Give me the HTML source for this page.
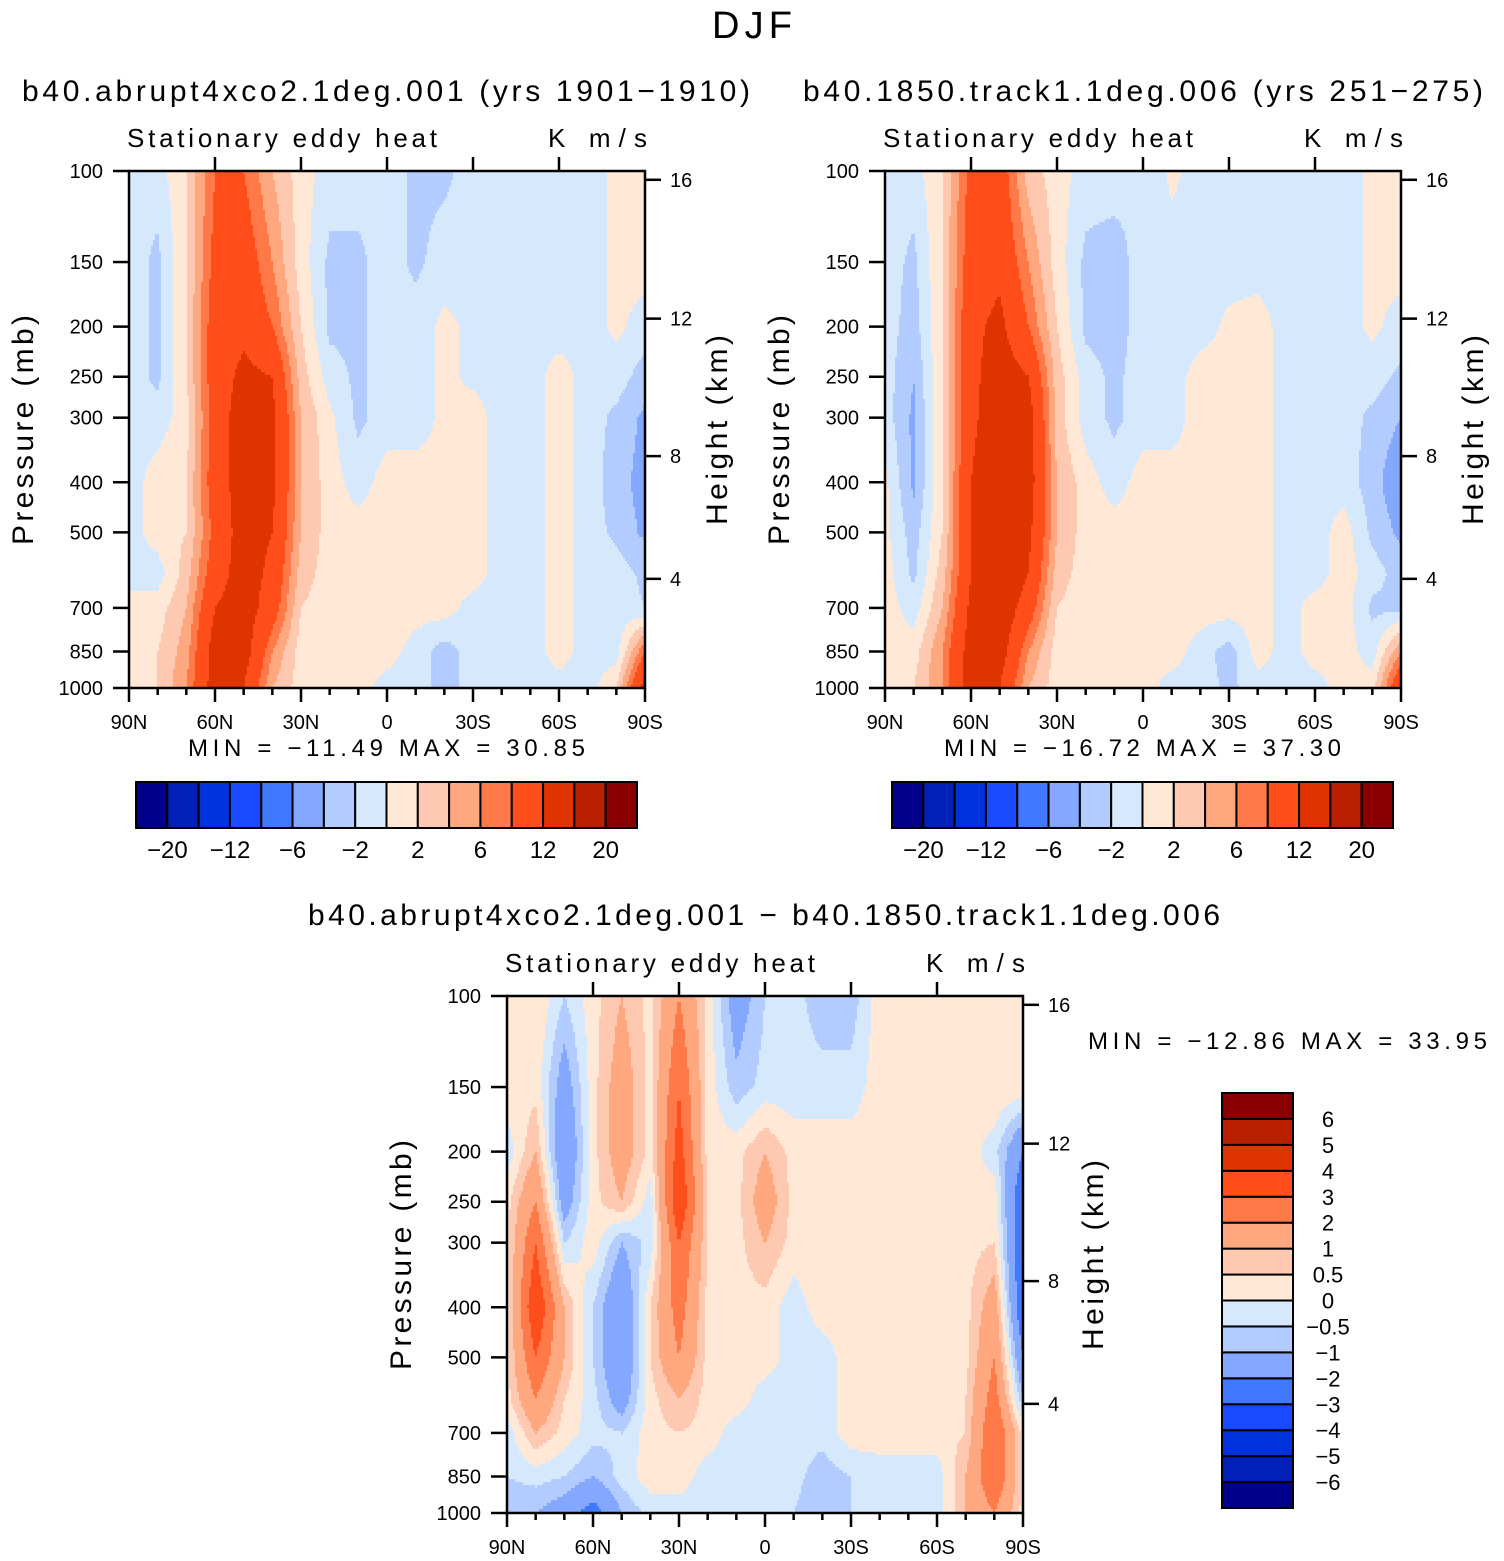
<!DOCTYPE html>
<html><head><meta charset="utf-8">
<style>
html,body{margin:0;padding:0;background:#fff;}
svg{display:block;font-family:"Liberation Sans",sans-serif;}
</style></head>
<body>
<svg id="fig" width="1504" height="1561" viewBox="0 0 1504 1561" xmlns="http://www.w3.org/2000/svg"></svg>
<script>
// ---------------- data ----------------
const lats=[90,80,70,60,50,40,30,20,10,0,-10,-20,-30,-40,-50,-60,-70,-80,-90];
const pressureLevels=[100,150,200,250,300,400,500,600,700,850,1000];
const pressureTicks=[100,150,200,250,300,400,500,700,850,1000];
const latTicks=[90,60,30,0,-30,-60,-90];
const latTickLabels=["90N","60N","30N","0","30S","60S","90S"];
const heightTicks=[16,12,8,4];
const heightTickP=[104,193,356,615];
const contourAB=[-20,-16,-12,-8,-6,-4,-2,0,2,4,6,8,12,16,20];
const contourC=[-6,-5,-4,-3,-2,-1,-0.5,0,0.5,1,2,3,4,5,6];
const cbLabelsAB=["−20","−12","−6","−2","2","6","12","20"];
const cbLabelsC=["−6","−5","−4","−3","−2","−1","−0.5","0","0.5","1","2","3","4","5","6"];
const palette=["#00008a","#0020b8","#0032dc","#1a4aff","#4078ff","#84a8ff","#b2ccff","#d6e8fc","#ffe8d6","#ffc8b0","#ffa880","#ff7a48","#ff4e1a","#e03400","#b82000","#8a0000"];
const valuesA=[
[-1,-1,2,8,8,4,1,-1,-1,-1,-2.5,-2.5,-1,-1,-1,-1,-1,0.5,1],
[-1,-2.5,2,9,10,6,1,-2.5,-2.5,-1,-2.5,-1,-1,-1,-1,-1,-1,0.5,1],
[-1,-2.5,2,10,11,8,2,-2.5,-2.5,-1,-1,0.5,-0.5,-1,-1,-1,-1,0.5,-1],
[-1,-2.5,2,10,13,12,3,-1,-2.5,-1,-1,0.5,-0.5,-1,-1,1,-1,-1,-3],
[-1,-1,1,10,14,13,4,0.5,-2.5,-1,-1,0.5,1,-1,-1,1,-1,-2.5,-4.5],
[-1,1,2,10,14,13,4,1,-1,1,1,0.5,1,-1,-1,1,-1,-3,-5],
[-1,1,2,9,14,12,4,1,1,1,1,1,1,-1,-1,1,-1,-2.5,-4.5],
[-1,-1,3,10,14,11,3,1,1,1,1,1,1,-1,-1,1,-1,-1,-2.5],
[1,1,4,12,14,10,2,1,1,1,1,1,-1,-1,-1,1,-1,-1,-2],
[1,2,5,14,14,6,1,1,1,1,-1,-3,-1,-1,-1,1,-1,-1,8],
[1,2,6,14,12,4,1,1,1,-1,-1,-3,-1,-1,-1,-1,-1,2,14]];
const valuesB=[
[-1,-1,2,9,10,3,1,-1,-1,-2,0.5,-1,-1,-1,-1,-1,-1,0.5,1],
[-1,-2.5,2,10,11,6,1,-2.5,-3,-1,-1,-1,-1,-1,-1,-1,-1,0.5,1],
[-1,-3,2,11,13,8,2,-2.5,-3,-1,-1,-1,0.5,1,-1,-1,-1,0.5,-1],
[-1,-4,2,11,14,12,3,-1,-2.5,-1,-1,1,1,1,-1,-1,-1,-1,-2.5],
[-1,-4.5,2,11,15,14,3,-1,-2.5,-1,-1,1,1,1,-1,-1,-1,-2.5,-4],
[0.5,-4.5,2,12,16,14,4,1,-1,1,1,1,1,1,-1,-1,-1,-3,-6],
[0.5,-3,2,12,16,13,4,1,1,1,1,1,1,1,-1,-1,1,-2.5,-4.5],
[1,-2.5,3,12,16,12,3,1,1,1,1,1,1,1,-1,-1,1,-1,-3],
[1,-1,4,13,15,10,2,1,1,1,1,1,1,1,-1,1,1,-2.5,-2.5],
[1,1,6,14,14,6,1,1,1,1,1,-1,-3,1,-1,1,1,-1,6],
[1,2,6,14,12,4,1,1,1,1,-1,-1,-2.5,-1,-1,-1,1,1,12]];
const valuesC=[
[0.3,0.5,-0.5,0.3,1,0.3,2,0.3,-1.5,-0.5,-0.3,-0.8,-0.8,0.3,0.3,0.3,0.3,0.3,0.3],
[0.3,0.3,-1.5,0.3,1.5,0.3,3,0.3,-0.8,-0.3,-0.3,-0.3,-0.3,0.3,0.3,0.3,0.3,0.5,0.3],
[-0.3,1,-2,0.3,1.5,0.3,3.5,0.3,0.3,1,0.3,0.3,0.3,0.3,0.3,0.3,0.3,-0.3,-2],
[0.3,2,-1.5,0.3,1,-0.3,4,0.5,0.3,1.5,0.3,0.5,0.3,0.3,0.3,0.3,0.3,0.3,-3],
[0.3,3,-0.5,0.3,-1,-0.3,3,0.5,0.3,1,0.3,0.5,0.3,0.3,0.3,0.3,0.3,0.5,-3],
[0.3,4,1,-0.5,-2,0.5,2.5,0.3,0.3,0.3,-0.3,0.3,0.3,0.3,0.3,0.3,0.3,1.5,-3],
[0.3,3,1,-0.5,-2,0.5,2,0.3,0.3,0.3,-0.3,-0.3,0.3,0.3,0.3,0.3,0.3,2,-2],
[0.3,2,0.5,-0.3,-1.5,0.3,1,0.3,0.3,-0.3,-0.3,-0.3,0.3,0.3,0.3,0.3,0.5,2.5,-1],
[-0.3,1,0.3,-0.3,-0.5,0.3,0.5,0.3,-0.3,-0.3,-0.3,-0.3,0.3,0.3,0.3,0.3,0.5,3,0.3],
[-0.5,-0.3,-0.5,-1,-0.3,0.3,0.3,-0.3,-0.3,-0.3,-0.3,-0.8,-0.5,-0.3,-0.3,-0.3,1,3,0.3],
[-1,-1,-1.5,-2.5,-1,-0.3,-0.3,-0.3,-0.3,-0.3,-0.5,-1,-0.5,-0.3,-0.3,-0.3,1,2,0.3]];

// ---------------- drawing ----------------
const NS="http://www.w3.org/2000/svg";
const svg=document.getElementById('fig');
const W=516,H=517;
function mk(tag,attrs,parent){const e=document.createElementNS(NS,tag);for(const k in attrs)e.setAttribute(k,attrs[k]);(parent||svg).appendChild(e);return e;}
function txt(parent,x,y,s,size,anchor,extra){const t=mk('text',Object.assign({x:x,y:y,'font-size':size,'text-anchor':anchor||'start',fill:'#000'},extra||{}),parent);t.textContent=s;return t;}
function interp(vals,lat,p){
  let ci=(lats[0]-lat)/10;ci=Math.max(0,Math.min(lats.length-1,ci));
  let c0=Math.min(Math.floor(ci),lats.length-2),fc=ci-c0;
  const lp=Math.log10(p);let r0=0;
  while(r0<pressureLevels.length-2&&Math.log10(pressureLevels[r0+1])<lp)r0++;
  const a=Math.log10(pressureLevels[r0]),b=Math.log10(pressureLevels[r0+1]);
  let fr=Math.max(0,Math.min(1,(lp-a)/(b-a)));
  const v00=vals[r0][c0],v01=vals[r0][c0+1],v10=vals[r0+1][c0],v11=vals[r0+1][c0+1];
  return (v00*(1-fc)+v01*fc)*(1-fr)+(v10*(1-fc)+v11*fc)*fr;
}
function classify(v,levels){let i=0;while(i<levels.length&&v>=levels[i])i++;return i;}

function panel(x0,y0,vals,levels,name,hOff){
  const g=mk('g',{});
  
  
  const xOf=lat=>x0+(90-lat)/180*W;
  const yOf=p=>y0+Math.log10(p/100)*H;
  const field=mk('g',{},g);
  
  
  const dx=2,dy=3;
  for(let py=0;py<H;py+=dy){
    const p=100*Math.pow(10,(py+dy/2)/H);
    let runStart=0,runC=-1;
    for(let px=0;px<=W;px+=dx){
      let c=-2;
      if(px<W){const lat=90-(px+dx/2)/W*180;c=classify(interp(vals,lat,p),levels);}
      if(c!==runC){
        if(runC>=0){const r=mk('rect',{x:x0+runStart,y:y0+py,width:px-runStart+0.5,height:Math.min(dy+0.5,H-py),fill:palette[runC]},field);
          
          }
        runStart=px;runC=c;
      }
    }
  }
  const fr=mk('rect',{x:x0,y:y0,width:W,height:H,fill:'none',stroke:'#000','stroke-width':2.5},g);
  
  
  for(let lat=90;lat>=-90;lat-=10){
    const x=xOf(lat),major=(lat%30===0);
    mk('line',{x1:x,y1:y0+H,x2:x,y2:y0+H+(major?14:7),stroke:'#000','stroke-width':2.5},g);
    if(major&&lat!==90&&lat!==-90) mk('line',{x1:x,y1:y0,x2:x,y2:y0-14,stroke:'#000','stroke-width':2.5},g);
  }
  latTicks.forEach((lat,i)=>{const t=txt(g,xOf(lat),y0+H+41,latTickLabels[i],20,'middle');
    });
  pressureTicks.forEach(p=>{const y=yOf(p);
    mk('line',{x1:x0-16,y1:y,x2:x0,y2:y,stroke:'#000','stroke-width':2.5},g);
    const t=txt(g,x0-26,y+7,String(p),20,'end');
    });
  heightTicks.forEach((h,i)=>{const y=yOf(heightTickP[i]);
    mk('line',{x1:x0+W,y1:y,x2:x0+W+16,y2:y,stroke:'#000','stroke-width':2.5},g);
    const t=txt(g,x0+W+25,y+7,String(h),20,'start');
    });
  const st=txt(g,x0-2,y0-24,'Stationary eddy heat',26,'start',{textLength:310,lengthAdjust:'spacing'});
  
  const km=txt(g,x0+419,y0-24,'K m/s',26,'start',{textLength:99,lengthAdjust:'spacing'});
  
  const pl=txt(g,0,0,'Pressure (mb)',30,'middle',{transform:`translate(${x0-96},${y0+259}) rotate(-90)`,textLength:230,lengthAdjust:'spacing'});
  
  const hl=txt(g,0,0,'Height (km)',30,'middle',{transform:`translate(${x0+W+hOff},${y0+259}) rotate(-90)`,textLength:190,lengthAdjust:'spacing'});
  
  return g;
}

function hColorbar(x0,y0,name){
  const g=mk('g',{});
  
  
  const bw=501/16;
  palette.forEach((c,i)=>{const r=mk('rect',{x:x0+i*bw,y:y0,width:bw,height:46,fill:c,stroke:'#000','stroke-width':2},g);
    });
  cbLabelsAB.forEach((s,i)=>{const t=txt(g,x0+(2*i+1)*bw,y0+76,s,24,'middle');
    });
}
function vColorbar(x0,y0){
  const g=mk('g',{});
  
  
  const bh=415/16;
  palette.forEach((c,i)=>{const r=mk('rect',{x:x0,y:y0+(15-i)*bh,width:71,height:bh,fill:c,stroke:'#000','stroke-width':2},g);
    });
  cbLabelsC.forEach((s,i)=>{const t=txt(g,x0+106,y0+(15-i)*bh+8,s,22,'middle');
    });
}

let t=txt(svg,752,38,'DJF',38,'middle',{textLength:80,lengthAdjust:'spacing'});

t=txt(svg,22,101,'b40.abrupt4xco2.1deg.001 (yrs 1901−1910)',30,'start',{textLength:728,lengthAdjust:'spacing'});

t=txt(svg,803,101,'b40.1850.track1.1deg.006 (yrs 251−275)',30,'start',{textLength:680,lengthAdjust:'spacing'});

t=txt(svg,308,925,'b40.abrupt4xco2.1deg.001 − b40.1850.track1.1deg.006',30,'start',{textLength:912,lengthAdjust:'spacing'});


panel(129,171,valuesA,contourAB,'panel-abrupt4xco2',82);
panel(885,171,valuesB,contourAB,'panel-1850-control',82);
panel(507,996,valuesC,contourC,'panel-difference',80);

t=txt(svg,188,756,'MIN = −11.49  MAX =  30.85',24,'start',{textLength:397,lengthAdjust:'spacing'});

t=txt(svg,944,756,'MIN = −16.72  MAX =  37.30',24,'start',{textLength:397,lengthAdjust:'spacing'});

t=txt(svg,1088,1049,'MIN = −12.86  MAX =  33.95',24,'start',{textLength:399,lengthAdjust:'spacing'});


hColorbar(136,782,'panel-a-colorbar');
hColorbar(892,782,'panel-b-colorbar');
vColorbar(1222,1093);
</script>
</body></html>
